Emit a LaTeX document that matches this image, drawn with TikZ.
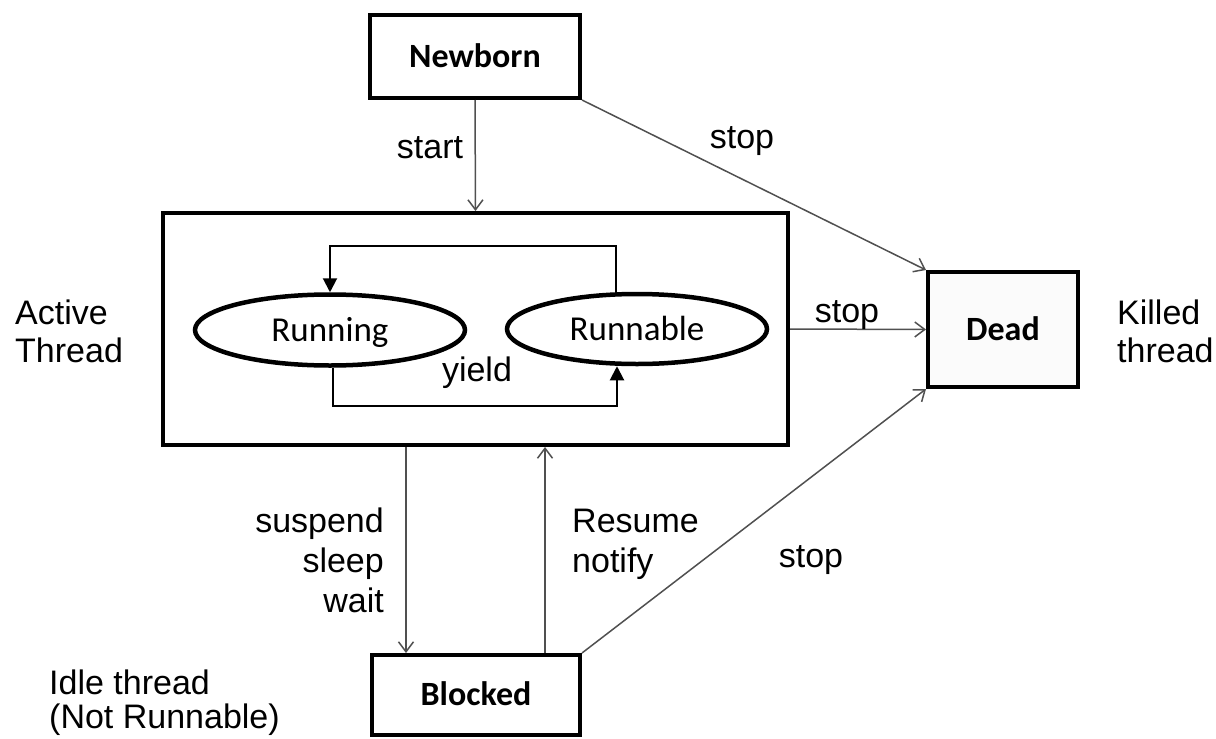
\documentclass[tikz,border=0pt]{standalone}
\usepackage{fontspec}
\usetikzlibrary{arrows.meta,shapes.geometric}
\newfontfamily\arialf{Liberation Sans}
\newfontfamily\calf{Carlito}
\definecolor{connc}{HTML}{505050}
\definecolor{deadfill}{HTML}{FBFBFB}
\tikzset{
  box/.style={draw, rectangle, line width=4pt, inner sep=0pt,
    font=\calf\bfseries\fontsize{34}{38}\selectfont, text height=21.5pt, text depth=0pt},
  st/.style={draw, ellipse, line width=4.5pt, inner sep=0pt,
    font=\calf\fontsize{35}{40}\selectfont, text height=22pt, text depth=0pt},
  conn/.style={draw=connc, line width=1.5pt, -{Straight Barb[length=10pt,width=15pt]}},
  loopln/.style={draw=black, line width=2pt, -{Triangle[length=14pt,width=14pt]}},
  lbl/.style={font=\arialf\fontsize{34}{38}\selectfont, inner sep=0pt},
}
\begin{document}
\begin{tikzpicture}[x=1pt,y=-1pt]
\useasboundingbox[fill=white] (0,0) rectangle (1216,739);

% states
\node[box, minimum width=210pt, minimum height=83pt] (newborn) at (475,56.5) {Newborn};
\node[box, minimum width=625pt, minimum height=232pt] (active) at (475.5,329) {};
\node[box, fill=deadfill, minimum width=150pt, minimum height=115pt] (dead) at (1003,329.5) {Dead};
\node[box, minimum width=208pt, minimum height=80pt] (blocked) at (476,695) {Blocked};
\node[st, minimum width=270pt, minimum height=71pt] (running) at (330,330) {Running};
\node[st, minimum width=260pt, minimum height=70pt] (runnable) at (637,329) {Runnable};

% helper coordinates for vertical connectors
\coordinate (sx) at (406,0);
\coordinate (rx) at (545,0);

% outer connectors
\draw[conn] (newborn.south) -- (active.north);
\draw[conn] (newborn.south east) -- (dead.north west);
\draw[conn] (active.east) -- (dead.west);
\draw[conn] (blocked.north east) -- (dead.south west);
\draw[conn] (active.south -| sx) -- (blocked.north -| sx);
\draw[conn] (blocked.north -| rx) -- (active.south -| rx);

% inner loop
\draw[loopln] ([xshift=-21pt]runnable.north) |- ([yshift=46pt]running.north) -- (running.north);
\draw[loopln] ([xshift=3pt]running.south) |- ([xshift=-20pt,yshift=-40pt]runnable.south) -- ([xshift=-20pt]runnable.south);

% labels (multi-line nodes: base anchor = baseline of last line)
\node[lbl, anchor=base] (lstart) at (430,158) {start};
\node[lbl, anchor=base] (lstop1) at (742,148) {stop};
\node[lbl, anchor=base] (lstop2) at (847,322) {stop};
\node[lbl, anchor=base] (lstop3) at (811,567) {stop};
\node[lbl, anchor=base] (lyield) at (477,381) {yield};
\node[lbl, align=left, anchor=base west] (lactive) at (15,362) {Active\\Thread};
\node[lbl, align=left, anchor=base west] (lkilled) at (1117,362) {Killed\\thread};
\node[lbl, align=right, anchor=base east, font=\arialf\fontsize{34}{40}\selectfont] (lsusp) at (384,612) {suspend\\sleep\\wait};
\node[lbl, align=left, anchor=base west, font=\arialf\fontsize{34}{40}\selectfont] (lres) at (572,572) {Resume\\notify};
\node[lbl, align=left, anchor=base west, font=\arialf\fontsize{34}{33.5}\selectfont] (lidle) at (49,728) {Idle thread\\(Not Runnable)};
\end{tikzpicture}
\end{document}
